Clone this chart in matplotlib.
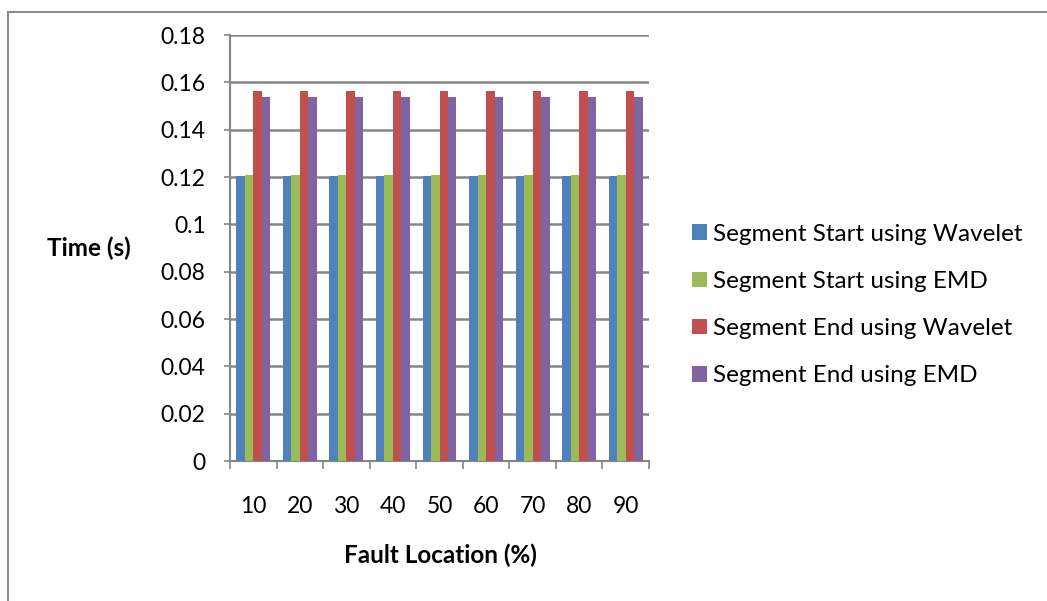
import matplotlib
matplotlib.use("Agg")
import matplotlib.pyplot as plt
from matplotlib.lines import Line2D
from matplotlib.patches import Patch
import numpy as np

plt.rcParams['font.family'] = ['Lato', 'DejaVu Sans']

# Fault location categories and detected segment times (s)
locations = ["10", "20", "30", "40", "50", "60", "70", "80", "90"]
start_wavelet = [0.1205, 0.1205, 0.1205, 0.1205, 0.1205, 0.1205, 0.1205, 0.1205, 0.1205]
start_emd = [0.121, 0.121, 0.121, 0.121, 0.121, 0.121, 0.121, 0.121, 0.121]
end_wavelet = [0.1565, 0.1565, 0.1565, 0.1565, 0.1565, 0.1565, 0.1565, 0.1565, 0.1565]
end_emd = [0.154, 0.154, 0.154, 0.154, 0.154, 0.154, 0.154, 0.154, 0.154]
series_names = ["Segment Start using Wavelet", "Segment Start using EMD",
                "Segment End using Wavelet", "Segment End using EMD"]
y_ticks = [0, 0.02, 0.04, 0.06, 0.08, 0.1, 0.12, 0.14, 0.16, 0.18]
y_tick_labels = ["0", "0.02", "0.04", "0.06", "0.08", "0.1", "0.12", "0.14", "0.16", "0.18"]

colors = ["#4F81BD", "#9BBB59", "#C0504D", "#8064A2"]
grid_color = "#868686"

W, H = 1047, 601
fig = plt.figure(figsize=(W / 100, H / 100), dpi=100)
ax = fig.add_axes([230 / W, 1 - 461 / H, (649 - 230) / W, (461 - 35) / H])

x = np.arange(len(locations))
bw = 1 / 5.5  # gap width of 150 %
data = [start_wavelet, start_emd, end_wavelet, end_emd]
for i, (vals, c) in enumerate(zip(data, colors)):
    ax.bar(x + (i - 1.5) * bw, vals, width=bw, color=c, zorder=3, linewidth=0)

ax.set_xlim(-0.5, len(locations) - 0.5)
ax.set_ylim(0, 0.18)
ax.set_yticks(y_ticks)
ax.set_yticklabels(y_tick_labels)
ax.yaxis.grid(True, color=grid_color, linewidth=1.8, zorder=0)
ax.set_axisbelow(True)

# Category boundaries carry tick marks; labels sit at the centres
ax.set_xticks(np.arange(len(locations) + 1) - 0.5)
ax.set_xticklabels([])
ax.set_xticks(x, minor=True)
ax.set_xticklabels(locations, minor=True)
ax.tick_params(axis='x', which='major', length=6, width=1.2, color=grid_color, direction='out')
ax.tick_params(axis='x', which='minor', length=0, pad=25, labelsize=16.5)
ax.tick_params(axis='y', length=4.5, width=1.2, color=grid_color, direction='out', pad=13, labelsize=16.5)

for s in ["top", "right"]:
    ax.spines[s].set_visible(False)
for s in ["left", "bottom"]:
    ax.spines[s].set_color(grid_color)
    ax.spines[s].set_linewidth(1.5)

fig.text(89 / W, 1 - 248 / H, "Time (s)", ha="center", va="center",
         fontsize=17.5, fontweight="bold")
fig.text(440 / W, 1 - 555 / H, "Fault Location (%)", ha="center", va="center",
         fontsize=17.5, fontweight="bold")

handles = [Patch(facecolor=c, edgecolor='none') for c in colors]
fig.legend(handles, series_names, loc="center left",
           bbox_to_anchor=(692 / W, 1 - 305 / H), frameon=False, borderpad=0,
           borderaxespad=0, fontsize=17.5, handlelength=0.6, handleheight=0.6,
           handletextpad=0.25, labelspacing=1.08)

# Outer chart frame
fig.add_artist(Line2D([8 / W, 8 / W], [0, 1 - 12 / H], color="#8c8c8c", linewidth=1.5))
fig.add_artist(Line2D([8 / W, 1], [1 - 12 / H, 1 - 12 / H], color="#8c8c8c", linewidth=1.5))

fig.savefig("out.png", dpi=100)
